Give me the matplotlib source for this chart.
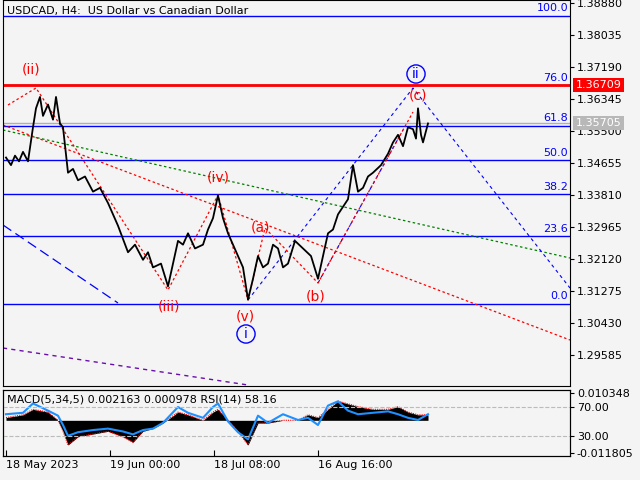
import matplotlib.pyplot as plt
import numpy as np

# price path (bar position, close)
bar_x = [3, 8, 12, 16, 20, 25, 30, 33, 37, 40, 45, 50, 53, 57, 60, 65, 70, 75, 82, 90, 97,
         105, 110, 115, 125, 132, 140, 145, 150, 158, 165, 170, 175, 180, 185, 192, 200,
         205, 210, 215, 220, 225, 235, 240, 245, 250, 255, 260, 265, 270, 275, 280, 285,
         292, 300, 308, 315, 320, 325, 330, 335, 340, 345, 350, 355, 360, 365, 370, 378,
         385, 390, 395, 400, 405, 410, 413, 415, 418, 420, 425]
close = [1.3480, 1.3460, 1.3485, 1.3470, 1.3495, 1.3470, 1.3560, 1.3610, 1.3640, 1.3590,
         1.3620, 1.3580, 1.3640, 1.3570, 1.3560, 1.3440, 1.3450, 1.3420, 1.3430, 1.3390,
         1.3400, 1.3360, 1.3330, 1.3300, 1.3230, 1.3250, 1.3210, 1.3230, 1.3190, 1.3200,
         1.3140, 1.3200, 1.3260, 1.3250, 1.3280, 1.3240, 1.3250, 1.3290, 1.3320, 1.3380,
         1.3320, 1.3280, 1.3220, 1.3190, 1.3105, 1.3160, 1.3220, 1.3190, 1.3200, 1.3250,
         1.3240, 1.3190, 1.3200, 1.3260, 1.3240, 1.3220, 1.3160, 1.3220, 1.3280, 1.3290,
         1.3330, 1.3350, 1.3370, 1.3460, 1.3390, 1.3400, 1.3430, 1.3440, 1.3460, 1.3490,
         1.3520, 1.3540, 1.3510, 1.3560, 1.3555, 1.3530, 1.3610, 1.3540, 1.3520, 1.3570]

fib_levels = ["100.0", "76.0", "61.8", "50.0", "38.2", "23.6", "0.0"]
fib_prices = [1.3854, 1.3671, 1.3563, 1.3473, 1.3383, 1.3272, 1.3093]

price_ticks = [1.38880, 1.38035, 1.37190, 1.36345, 1.35500, 1.34655, 1.33810,
               1.32965, 1.32120, 1.31275, 1.30430, 1.29585]

ind_x = [3, 20, 30, 45, 55, 60, 65, 75, 90, 105, 120, 130, 140, 150, 160, 175, 185, 200,
         210, 215, 225, 235, 245, 255, 265, 280, 295, 305, 315, 325, 335, 345, 355, 370,
         385, 395, 405, 415, 425]
macd = [0.001, 0.002, 0.004, 0.003, 0.0, -0.004, -0.009, -0.006, -0.005, -0.004, -0.006,
        -0.008, -0.004, -0.003, -0.001, 0.003, 0.002, 0.0, 0.003, 0.004, 0.0, -0.004,
        -0.009, -0.001, -0.001, 0.0, 0.0, 0.002, 0.001, 0.004, 0.007, 0.006, 0.005,
        0.004, 0.004, 0.005, 0.003, 0.002, 0.002]
rsi = [60, 62, 75, 65, 58, 45, 30, 35, 38, 40, 36, 32, 38, 40, 48, 70, 62, 55, 70, 75,
       50, 35, 25, 58, 48, 60, 52, 55, 45, 72, 78, 65, 60, 62, 64, 60, 55, 52, 60]

date_pos = [3, 107, 211, 315]
date_labels = ["18 May 2023", "19 Jun 00:00", "18 Jul 08:00", "16 Aug 16:00"]

W, H = 640, 480
BG = "#f4f4f4"
PX = 0.000264  # price per pixel


def p(y):
    return 1.38880 - (y - 3) * PX


fig = plt.figure(figsize=(6.4, 4.8), dpi=100)
fig.patch.set_facecolor(BG)
ax = fig.add_axes([3 / W, (H - 386) / H, 567 / W, 386 / H])
ax2 = fig.add_axes([3 / W, (H - 456) / H, 567 / W, 66 / H])
ax.set_facecolor(BG)
ax2.set_facecolor(BG)
ax.set_xlim(0, 567)
ax2.set_xlim(0, 567)
ax.yaxis.tick_right()
ax.tick_params(labelsize=8, length=3, pad=2)
ax.set_ylim(p(386), p(0))
ax.set_xticks([])
ax.set_yticks(price_ticks)
ax.set_yticklabels(["%.5f" % v for v in price_ticks])

# fib levels
for lab, pr in zip(fib_levels, fib_prices):
    ax.axhline(pr, color="blue", lw=1)
    ax.text(565, pr + 0.0007, lab, color="blue", fontsize=8, ha="right", va="bottom")
ax.axhline(1.36709, color="red", lw=2)
ax.axhline(1.35705, color="#b0b0b0", lw=1)
for pr, col, txt in [(1.36709, "red", "1.36709"), (1.35705, "#b8b8b8", "1.35705")]:
    ax.text(1.01, pr, txt, color="white", fontsize=8, va="center", transform=ax.get_yaxis_transform(),
            bbox=dict(boxstyle="square,pad=0.2", fc=col, ec="none"), clip_on=False)

# trend lines
ax.plot([0, 567], [p(130), p(258)], color="green", ls=(0, (2, 2)), lw=0.9)
ax.plot([0, 567], [p(125), p(340)], color="red", ls=(0, (2, 2)), lw=0.9)
ax.plot([0, 245], [p(348), p(385)], color="#6a0dad", ls=(0, (3, 3)), lw=1)
ax.plot([0, 115], [p(225), p(303)], color="blue", ls=(0, (8, 4)), lw=0.9)
ax.plot([245, 410, 567], [p(300), p(88), p(288)], color="blue", ls=(0, (3, 3)), lw=0.8)
ax.plot([315, 400], [p(283), p(130)], color="blue", ls=(0, (3, 3)), lw=0.8)
ax.plot([5, 33, 165, 215, 245, 262, 315, 410], [p(105), p(88), p(290), p(195), p(300), p(228), p(283), p(112)],
        color="red", ls=(0, (2, 2)), lw=0.9)

ax.plot(bar_x, close, color="black", lw=1.3)

# wave labels
for x, y, t in [(28, 70, "(ii)"), (166, 306, "(iii)"), (215, 178, "(iv)"), (242, 316, "(v)"),
                (258, 228, "(a)"), (313, 297, "(b)"), (415, 96, "(c)")]:
    ax.text(x, p(y), t, color="red", fontsize=10, ha="center", va="center")
for x, y, t in [(243, 334, "i"), (413, 74, "ii")]:
    ax.text(x, p(y), t, color="blue", fontsize=10, ha="center", va="center",
            bbox=dict(boxstyle="circle,pad=0.15", fc="none", ec="blue"))
ax.text(4, p(11), "USDCAD, H4:  US Dollar vs Canadian Dollar", fontsize=8, va="center")

# indicator panel: MACD on ax2 (hidden y), RSI on ax2r (carries all labels)
ax2.set_ylim(-0.011805 - 0.0012, 0.010348 + 0.0007)
ax2.fill_between(ind_x, 0, macd, color="black", lw=0)
ax2.plot(ind_x, macd, color="red", ls=(0, (1, 1)), lw=0.8)
ax2.set_xticks(date_pos)
ax2.set_xticklabels(date_labels, ha="left")
ax2.tick_params(axis="x", labelsize=8, length=4, direction="in", pad=3)
ax2.text(4, 0.0075, "MACD(5,34,5) 0.002163 0.000978 RSI(14) 58.16", fontsize=8, va="center")

ax2r = ax2.twinx()
ax2.set_yticks([])
ymin, ymax = 1.9, 93.7
ax2r.set_ylim(ymin, ymax)
ax2r.plot(ind_x, rsi, color="#1e90ff", lw=1.5)
for v in (70, 30):
    ax2r.axhline(v, color="#bbbbbb", ls="--", lw=0.8)
ax2r.set_yticks([ymax - 3.5, 70, 30, ymin + 3.5])
ax2r.set_yticklabels(["0.010348", "70.00", "30.00", "-0.011805"])
ax2r.tick_params(labelsize=8, length=3, pad=2)

fig.savefig("out.png", dpi=100, facecolor=BG)
